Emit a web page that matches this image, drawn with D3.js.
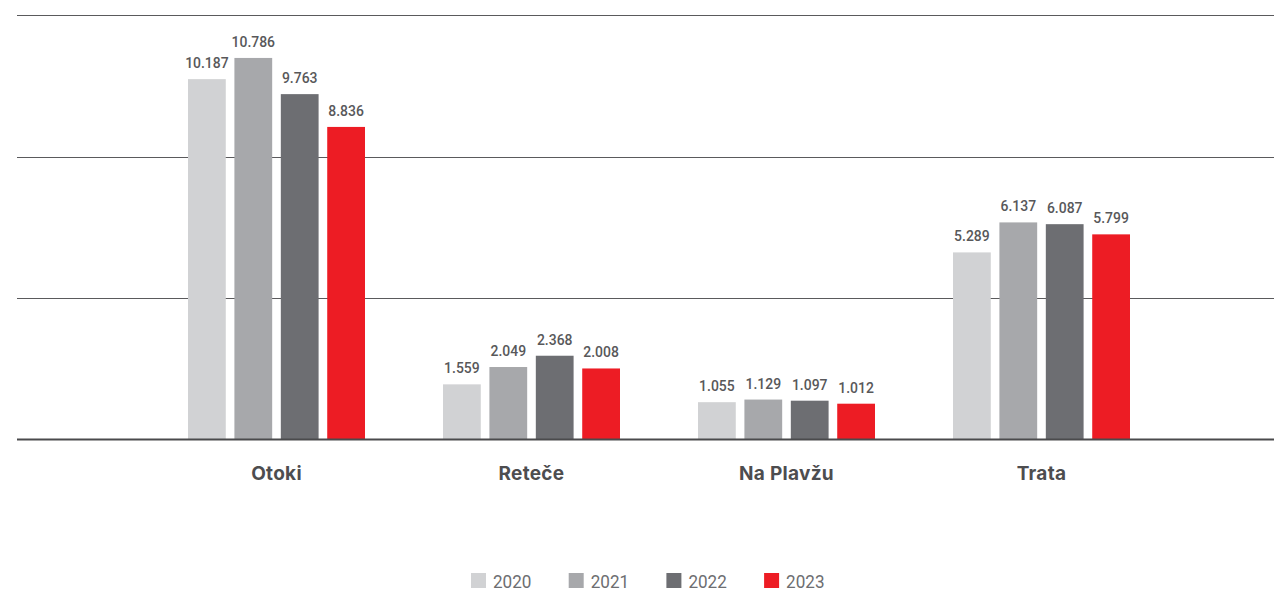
<!DOCTYPE html>
<html><head><meta charset="utf-8">
<script src="https://cdn.jsdelivr.net/npm/d3@7"></script>
<style>
html,body{margin:0;padding:0;background:#fff;}
svg{display:block;}
</style></head>
<body>
<svg id="chart" width="1274" height="593"></svg>
<script>
const categories = ["Otoki", "Reteče", "Na Plavžu", "Trata"];
const years = ["2020", "2021", "2022", "2023"];
const values2020 = [10.187, 1.559, 1.055, 5.289];
const values2021 = [10.786, 2.049, 1.129, 6.137];
const values2022 = [9.763, 2.368, 1.097, 6.087];
const values2023 = [8.836, 2.008, 1.012, 5.799];
const yTicks = [0, 4, 8, 12];
const colors = ["#d1d2d4", "#a7a8ab", "#6d6e72", "#ed1c24"];

const series = [values2020, values2021, values2022, values2023];
const fmt = v => v.toFixed(3);

const svg = d3.select("#chart");

const y = d3.scaleLinear().domain([0, 12]).range([439.5, 15]);
const x0 = d3.scaleBand().domain(categories).range([149, 1169]).padding(0);
const x1 = d3.scaleBand().domain(years).range([0, 177]).paddingInner(0.186).paddingOuter(0);

// gridlines
svg.append("g").selectAll("line").data(yTicks.filter(t => t > 0)).join("line")
  .attr("x1", 17).attr("x2", 1274)
  .attr("y1", d => Math.round(y(d)) + 0.5).attr("y2", d => Math.round(y(d)) + 0.5)
  .attr("stroke", "#5a5a5c").attr("stroke-width", 1);

// bars
const groups = svg.append("g").selectAll("g").data(categories).join("g")
  .attr("transform", d => `translate(${x0(d) + x0.bandwidth() / 2 - 88.5},0)`);

groups.each(function(cat, ci) {
  const g = d3.select(this);
  years.forEach((yr, si) => {
    const v = series[si][ci];
    g.append("rect")
      .attr("x", x1(yr)).attr("width", x1.bandwidth())
      .attr("y", y(v)).attr("height", y(0) - y(v))
      .attr("fill", colors[si]);
    g.append("text")
      .attr("transform", `translate(${x1(yr) + x1.bandwidth() / 2},${y(v) - 11}) scale(0.9,1)`)
      .attr("text-anchor", "middle")
      .attr("font-family", "Roboto, 'Liberation Sans', sans-serif")
      .attr("font-size", 15.5)
      .attr("font-weight", 500)
      .attr("fill", "#58585a")
      .text(fmt(v));
  });
});

// baseline
svg.append("line").attr("x1", 17).attr("x2", 1274)
  .attr("y1", y(0)).attr("y2", y(0))
  .attr("stroke", "#4a4a4c").attr("stroke-width", 2);

// category labels
svg.append("g").selectAll("text").data(categories).join("text")
  .attr("x", d => x0(d) + x0.bandwidth() / 2)
  .attr("y", 480)
  .attr("text-anchor", "middle")
  .attr("font-family", "Inter, 'Open Sans', sans-serif")
  .attr("font-weight", 700)
  .attr("font-size", 19)
  .attr("letter-spacing", 0.3)
  .attr("fill", "#4d4d4f")
  .text(d => d);

// legend
const leg = svg.append("g").selectAll("g").data(years).join("g")
  .attr("transform", (d, i) => `translate(${471 + i * 97.7},573)`);
leg.append("rect").attr("width", 15).attr("height", 15).attr("fill", (d, i) => colors[i]);
leg.append("text").attr("transform", "translate(22,15) scale(0.9,1)")
  .attr("font-family", "Roboto, 'Liberation Sans', sans-serif").attr("font-size", 19)
  .attr("fill", "#6d6e71").text(d => d);
</script>
</body></html>
